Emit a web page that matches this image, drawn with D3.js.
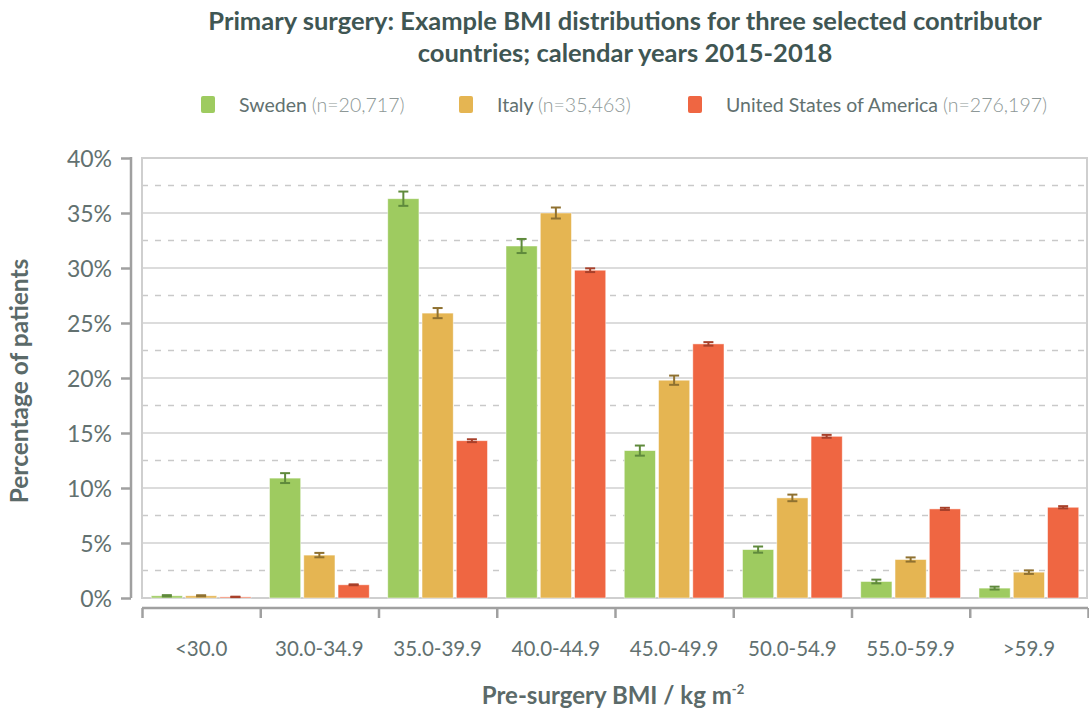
<!DOCTYPE html>
<html><head><meta charset="utf-8">
<script src="https://cdn.jsdelivr.net/npm/d3@7"></script>
<style>
body{margin:0;background:#fff;}
text{font-family:Lato,"Open Sans",sans-serif;}
</style></head>
<body><svg id="c" width="1089" height="713"></svg>
<script>
const categories = ["<30.0","30.0-34.9","35.0-39.9","40.0-44.9","45.0-49.9","50.0-54.9","55.0-59.9",">59.9"];
const seriesNames = ["Sweden","Italy","United States of America"];
const seriesN = ["(n=20,717)","(n=35,463)","(n=276,197)"];
const sweden = [0.2, 10.9, 36.3, 32.0, 13.4, 4.4, 1.5, 0.9];
const italy  = [0.2, 3.9, 25.9, 35.0, 19.8, 9.1, 3.5, 2.35];
const usa    = [0.1, 1.2, 14.3, 29.8, 23.1, 14.7, 8.1, 8.25];
const swedenErr = [0.06, 0.45, 0.65, 0.64, 0.46, 0.28, 0.17, 0.13];
const italyErr  = [0.05, 0.2, 0.46, 0.5, 0.42, 0.3, 0.19, 0.16];
const usaErr    = [0.02, 0.04, 0.13, 0.17, 0.16, 0.13, 0.1, 0.1];
const yTicks = [0,5,10,15,20,25,30,35,40];
const colors = ["#9ecb60","#e5b552","#ef6642"];
const errColors = ["#5f8a3c","#8f7130","#a8402a"];

const values = [sweden, italy, usa];
const errs = [swedenErr, italyErr, usaErr];

const svg = d3.select("#c");
const L=142, R=1088, T=158, B=598;
const x = d3.scaleBand().domain(categories).range([L,R]).paddingInner(0).paddingOuter(0);
const xs = d3.scaleBand().domain(d3.range(3)).range([0,x.bandwidth()]).paddingInner(0.09).paddingOuter(0.27);
const y = d3.scaleLinear().domain([0,40]).range([B,T]);

// dashed minor grid
const minor = d3.range(2.5,40,5);
svg.append("g").selectAll("line").data(minor).join("line")
  .attr("x1",L).attr("x2",R).attr("y1",d=>y(d)).attr("y2",d=>y(d))
  .attr("stroke","#c9c9c9").attr("stroke-width",1.3).attr("stroke-dasharray","6,7");
// solid grid
svg.append("g").selectAll("line").data(yTicks.slice(1,-1)).join("line")
  .attr("x1",L).attr("x2",R).attr("y1",d=>y(d)).attr("y2",d=>y(d))
  .attr("stroke","#d0d0d0").attr("stroke-width",1.5);
// plot frame
svg.append("rect").attr("x",L).attr("y",y(40)).attr("width",R-L-1).attr("height",B-y(40))
  .attr("fill","none").attr("stroke","#cfcfcf").attr("stroke-width",2);

// bars
categories.forEach((c,i)=>{
  values.forEach((vals,s)=>{
    const bx = x(c)+xs(s), bw = xs.bandwidth(), v = vals[i];
    svg.append("rect").attr("x",bx).attr("y",y(v)).attr("width",bw).attr("height",B-y(v))
      .attr("fill",colors[s]).attr("stroke","#fff").attr("stroke-width",0.8).attr("stroke-opacity",0.6);
    const e = errs[s][i], cx = bx+bw/2;
    const g = svg.append("g").attr("stroke",errColors[s]).attr("stroke-width",2);
    g.append("line").attr("x1",cx).attr("x2",cx).attr("y1",y(v+e)).attr("y2",y(v-e));
    g.append("line").attr("x1",cx-5).attr("x2",cx+5).attr("y1",y(v+e)).attr("y2",y(v+e));
    g.append("line").attr("x1",cx-5).attr("x2",cx+5).attr("y1",y(v-e)).attr("y2",y(v-e));
  });
});

// left axis
const yAxis = d3.axisLeft(y).tickValues(yTicks).tickFormat(d=>d+"%").tickSize(10).tickPadding(9);
const ya = svg.append("g").attr("transform",`translate(131,0)`).call(yAxis);
ya.select(".domain").attr("stroke","#a0a0a0").attr("stroke-width",2.5).attr("d",`M0,${T-1}V${B}`);
ya.selectAll(".tick line").attr("stroke","#a0a0a0").attr("stroke-width",2.5);
ya.selectAll(".tick text").attr("fill","#627170").attr("font-size",23).attr("dy","0.36em");

// bottom axis
const xb = d3.scaleLinear().domain([0,categories.length]).range([L,R]);
const xAxis = d3.axisBottom(xb).tickValues(d3.range(categories.length+1)).tickSize(10).tickFormat("");
const xa = svg.append("g").attr("transform",`translate(0,608)`).call(xAxis);
xa.select(".domain").attr("stroke","#a0a0a0").attr("stroke-width",2.5).attr("d",`M${L},0H${R}`);
xa.selectAll(".tick line").attr("stroke","#a0a0a0").attr("stroke-width",2.5);
svg.append("g").selectAll("text").data(categories).join("text")
  .attr("x",d=>x(d)+x.bandwidth()/2).attr("y",656).attr("text-anchor","middle")
  .attr("fill","#627170").attr("font-size",20.5).text(d=>d);

// axis titles
svg.append("text").attr("transform","translate(28,381) rotate(-90)").attr("text-anchor","middle")
  .attr("fill","#5b6a69").attr("font-size",24.5).attr("font-weight","bold").text("Percentage of patients");
const xt = svg.append("text").attr("x",613).attr("y",704).attr("text-anchor","middle")
  .attr("fill","#5b6a69").attr("font-size",24).attr("font-weight","bold");
xt.append("tspan").text("Pre-surgery BMI / kg m");
xt.append("tspan").attr("font-size",13).attr("dy",-10).text("-2");

// title
const titleLines = ["Primary surgery: Example BMI distributions for three selected contributor","countries; calendar years 2015-2018"];
svg.append("g").selectAll("text").data(titleLines).join("text")
  .attr("x",625).attr("y",(d,i)=>30+i*32).attr("text-anchor","middle")
  .attr("fill","#3f5653").attr("font-size",25.5).attr("font-weight","bold").text(d=>d);

// legend
const legX = [201,459,688];
seriesNames.forEach((n,i)=>{
  svg.append("rect").attr("x",legX[i]).attr("y",96).attr("width",14).attr("height",17).attr("rx",2)
    .attr("fill",colors[i]);
  const t = svg.append("text").attr("x",legX[i]+38).attr("y",112).attr("font-size",19.5);
  t.append("tspan").attr("fill","#627170").text(n+" ");
  t.append("tspan").attr("fill","#8d9796").attr("font-weight",300).text(seriesN[i]);
});
</script></body></html>
